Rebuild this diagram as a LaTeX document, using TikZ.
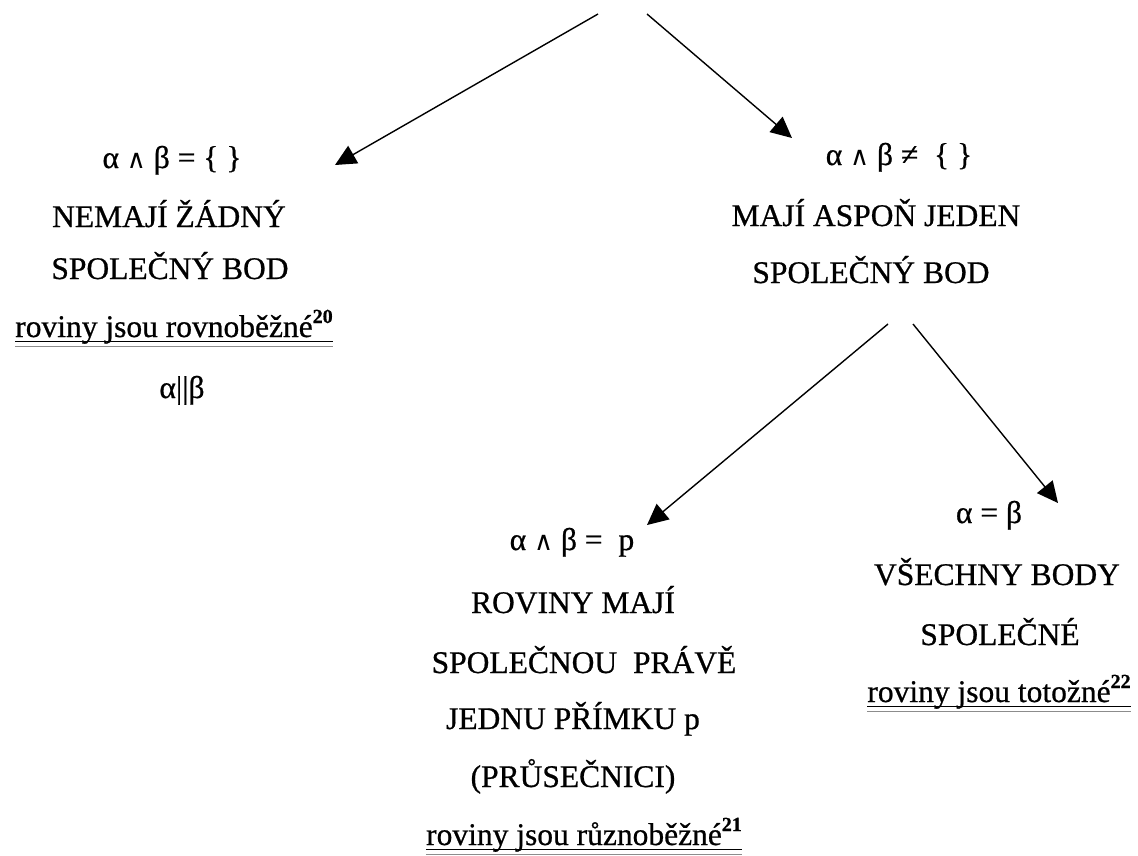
\documentclass[tikz,border=0pt]{standalone}
\usepackage{fontspec}
\setmainfont{Liberation Serif}[FakeBold=0.7]
\newfontfamily\symf{DejaVu Serif}
\usetikzlibrary{arrows.meta}
\tikzset{
  txt/.style={anchor=base, inner sep=0pt, font=\fontsize{31.5}{36}\selectfont},
  arr/.style={line width=1.4pt, -{Triangle[length=21pt,width=20pt]}},
  ulone/.style={line width=1.5pt},
  ultwo/.style={line width=0.9pt, black!45},
}
\newcommand{\supnum}[1]{\raisebox{14pt}{\fontsize{20}{24}\selectfont\bfseries #1}}
\newcommand{\wedg}{{\symf\fontsize{26}{30}\selectfont ∧}}
\begin{document}
\begin{tikzpicture}[x=1pt,y=-1pt]
\useasboundingbox (0,0) rectangle (1138,855);
% left block
\node[txt] (a1) at (172,168) {α \wedg{} β = \{ \}};
\node[txt] (a2) at (169,227) {NEMAJÍ ŽÁDNÝ};
\node[txt] (a3) at (170,279) {SPOLEČNÝ BOD};
\node[txt] (a4) at (174,337) {roviny jsou rovnoběžné\supnum{20}};
\node[txt] (a5) at (182,398) {α||β};
% right upper block
\node[txt] (b1) at (899,165) {α \wedg{} β ≠\hspace{8pt} \{ \}};
\node[txt] (b2) at (876,226) {MAJÍ ASPOŇ JEDEN};
\node[txt] (b3) at (871,283) {SPOLEČNÝ BOD};
% bottom middle block
\node[txt] (c1) at (572,550) {α \wedg{} β =\hspace{8pt} p};
\node[txt] (c2) at (573,613) {ROVINY MAJÍ};
\node[txt] (c3) at (584,673) {SPOLEČNOU\hspace{8pt} PRÁVĚ};
\node[txt] (c4) at (573,729) {JEDNU PŘÍMKU p};
\node[txt] (c5) at (573,787) {(PRŮSEČNICI)};
\node[txt] (c6) at (584,845) {roviny jsou různoběžné\supnum{21}};
% bottom right block
\node[txt] (d1) at (989,523) {α = β};
\node[txt] (d2) at (997,585) {VŠECHNY BODY};
\node[txt] (d3) at (1000,645) {SPOLEČNÉ};
\node[txt] (d4) at (999,702) {roviny jsou totožné\supnum{22}};
% underlines
\foreach \n in {a4,c6,d4}{
  \draw[ulone] ([yshift=-4.5pt]\n.base west) -- ([yshift=-4.5pt]\n.base east);
  \draw[ultwo] ([yshift=-9pt]\n.base west) -- ([yshift=-9pt]\n.base east);
}
% arrows
\coordinate (r1) at (598,14);
\coordinate (r2) at (647,14);
\coordinate (t1) at (335,165);
\coordinate (t2) at (792,138);
\coordinate (s1) at (888,324);
\coordinate (s2) at (913,324);
\coordinate (t3) at (647,525);
\coordinate (t4) at (1058,503);
\draw[arr] (r1) -- (t1);
\draw[arr] (r2) -- (t2);
\draw[arr] (s1) -- (t3);
\draw[arr] (s2) -- (t4);
\end{tikzpicture}
\end{document}
